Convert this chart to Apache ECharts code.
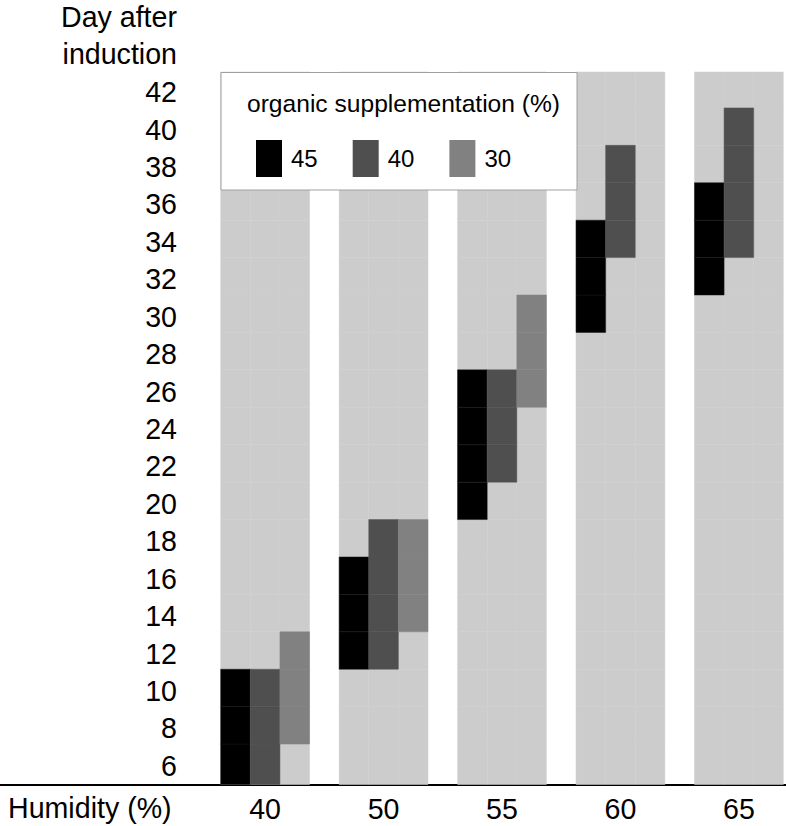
<!DOCTYPE html>
<html>
<head>
<meta charset="utf-8">
<script src="https://cdn.jsdelivr.net/npm/echarts@6/dist/echarts.min.js"></script>
<style>
  html, body { margin: 0; padding: 0; background: #fff; }
  #chart { width: 786px; height: 826px; }
</style>
</head>
<body>
<div id="chart"></div>
<script>
// ---- data ----
const humidity = ['40', '50', '55', '60', '65'];          // x groups (%)
const supplementation = ['45', '40', '30'];                // organic supplementation (%)
const dayTicks = [6, 8, 10, 12, 14, 16, 18, 20, 22, 24, 26, 28, 30, 32, 34, 36, 38, 40, 42];
// first and last 2-day bins (tick label day) of each coloured bar, per humidity group
const first45 = [6, 12, 20, 30, 32];
const last45  = [10, 16, 26, 34, 36];
const first40 = [6, 12, 22, 34, 34];
const last40  = [10, 18, 26, 38, 40];
const first30 = [8, 14, 26, null, null];
const last30  = [12, 18, 30, null, null];

// ---- styling / layout ----
const FONT = '"Liberation Sans", Arial, Helvetica, sans-serif';
const COLORS = ['#000000', '#4f4f4f', '#818181'];
const BG = '#cccccc';
const Y_MIN = 4.84, Y_MAX = 42.92;
const X_MIN = -7.4535, X_MAX = 19.091;
const SLOTS_PER_GROUP = 4;
const AXIS_FS = 28.6;

const firsts = [first45, first40, first30];
const lasts = [last45, last40, last30];

function cellRect(api, slot, lo, hi, fill, stroke) {
  const p1 = api.coord([slot, hi]);
  const p2 = api.coord([slot + 1, lo]);
  return {
    type: 'rect',
    shape: { x: p1[0], y: p1[1], width: p2[0] - p1[0], height: p2[1] - p1[1] },
    style: { fill: fill, stroke: stroke, lineWidth: 0.5 }
  };
}

const bgSeries = {
  type: 'custom',
  name: 'bg',
  silent: true,
  z: 1,
  data: humidity.map((h, g) => [g]),
  renderItem: function (params, api) {
    const g = api.value(0);
    const children = [];
    for (let k = 0; k < 3; k++) {
      const slot = g * SLOTS_PER_GROUP + k;
      for (let i = 0; i < dayTicks.length; i++) {
        const d = dayTicks[i];
        const lo = i === 0 ? Y_MIN : d - 1;
        const hi = i === dayTicks.length - 1 ? Y_MAX : d + 1;
        children.push(cellRect(api, slot, lo, hi, BG, '#cfcfcf'));
      }
    }
    return { type: 'group', children: children };
  }
};

const strokeCols = ['#181818', '#545454', '#858585'];
const barSeries = supplementation.map((name, k) => ({
  type: 'custom',
  name: name,
  z: 3,
  itemStyle: { color: COLORS[k] },
  data: humidity.map((h, g) => [g, firsts[k][g], lasts[k][g]]).filter(r => r[1] != null),
  renderItem: function (params, api) {
    const g = api.value(0);
    const a = api.value(1), b = api.value(2);
    const slot = g * SLOTS_PER_GROUP + k;
    const children = [];
    for (let d = a; d <= b; d += 2) {
      const lo = d === dayTicks[0] ? Y_MIN : d - 1;
      children.push(cellRect(api, slot, lo, d + 1, COLORS[k], strokeCols[k]));
    }
    return { type: 'group', children: children };
  }
}));

const chart = echarts.init(document.getElementById('chart'), null, { renderer: 'svg' });
chart.setOption({
  animation: false,
  backgroundColor: '#ffffff',
  textStyle: { fontFamily: FONT },
  grid: { left: 0, right: 0, top: 72, bottom: 41.5, containLabel: false, outerBoundsMode: 'none' },
  xAxis: {
    type: 'value',
    min: X_MIN, max: X_MAX,
    axisLine: { show: true, onZero: false, lineStyle: { color: '#000', width: 2 } },
    axisTick: { show: false },
    splitLine: { show: false },
    axisLabel: {
      customValues: humidity.map((h, g) => g * SLOTS_PER_GROUP + 1.5),
      formatter: v => humidity[Math.round((v - 1.5) / SLOTS_PER_GROUP)],
      fontSize: AXIS_FS, color: '#000', margin: 10, fontFamily: FONT
    }
  },
  yAxis: {
    type: 'value',
    min: Y_MIN, max: Y_MAX,
    offset: -177,
    axisLine: { show: false },
    axisTick: { show: false },
    splitLine: { show: false },
    axisLabel: {
      customValues: dayTicks,
      formatter: v => '{t|' + v + '}',
      rich: { t: { fontSize: AXIS_FS, color: '#000', fontFamily: FONT, padding: [6, 0, 0, 0] } },
      fontSize: AXIS_FS, color: '#000', margin: 0, fontFamily: FONT
    }
  },
  legend: {
    data: supplementation,
    selectedMode: false,
    orient: 'horizontal',
    left: 256, top: 140,
    padding: 0,
    itemWidth: 26, itemHeight: 37,
    itemGap: 35,
    icon: 'rect',
    itemStyle: { borderWidth: 0 },
    textStyle: { fontSize: 24, color: '#000', fontFamily: FONT, padding: [0, 0, 0, 4] },
    z: 120
  },
  graphic: [
    {
      type: 'rect', z: 100,
      shape: { x: 221, y: 72.5, width: 356, height: 117.5 },
      style: { fill: '#ffffff', stroke: '#a0a0a0', lineWidth: 1 }
    },
    {
      type: 'text', z: 110,
      style: { text: 'organic supplementation (%)', x: 247, y: 103, fontSize: 24.6, fontFamily: FONT,
               fill: '#000', textAlign: 'left', textVerticalAlign: 'middle' }
    },
    {
      type: 'text', z: 110,
      style: { text: 'Day after\ninduction', x: 177, y: 35, fontSize: AXIS_FS, lineHeight: 37, fontFamily: FONT,
               fill: '#000', textAlign: 'right', textVerticalAlign: 'middle' }
    },
    {
      type: 'text', z: 110,
      style: { text: 'Humidity (%)', x: 8, y: 808, fontSize: AXIS_FS, fontFamily: FONT,
               fill: '#000', textAlign: 'left', textVerticalAlign: 'middle' }
    }
  ],
  series: [bgSeries].concat(barSeries)
});
</script>
</body>
</html>
